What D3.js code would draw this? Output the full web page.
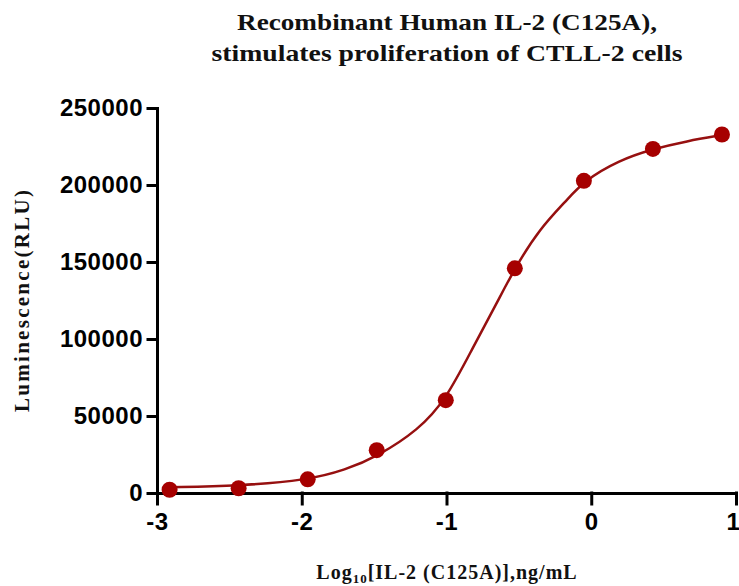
<!DOCTYPE html>
<html>
<head>
<meta charset="utf-8">
<script src="https://cdn.jsdelivr.net/npm/d3@7"></script>
<style>
  body { margin: 0; background: #fff; }
  svg { display: block; }
</style>
</head>
<body>
<div id="graf"></div>
<script>
// datos
const logConc = [-2.913, -2.436, -1.959, -1.482, -1.005, -0.528, -0.051, 0.426, 0.903]
const rlu = [2100, 3100, 8900, 27800, 60300, 145900, 202700, 223400, 232800]

// curva ajustada (leida sobre la linea)
const fitX = [-2.913, -2.436, -1.959, -1.70, -1.473, -1.195, -1.005, -0.815, -0.653, -0.528, -0.354, -0.170, -0.051, 0.19, 0.426, 0.66, 0.903]
const fitY = [3700, 4600, 8400, 14900, 24000, 40900, 60400, 95000, 123200, 146100, 171900, 190000, 202600, 216000, 223400, 228500, 232400]

const xTicks = [-3, -2, -1, 0, 1]
const yTicks = [0, 50000, 100000, 150000, 200000, 250000]

const ancho_total = 739
const alto_total = 586

const svg = d3.select('#graf').append('svg')
  .attr('width', ancho_total)
  .attr('height', alto_total)

const x = d3.scaleLinear().domain([-3, 1]).range([157, 736])
const y = d3.scaleLinear().domain([0, 250000]).range([493, 108])

const rojo = '#a60000'

// titulo
function serif(sel, size) {
  return sel.attr('text-anchor', 'middle')
    .attr('font-family', 'Liberation Serif')
    .attr('font-weight', 'bold')
    .attr('font-size', size)
    .attr('fill', '#111')
}
serif(svg.append('text'), '24px')
  .attr('x', 447).attr('y', 30)
  .attr('textLength', 420).attr('lengthAdjust', 'spacingAndGlyphs')
  .text('Recombinant Human IL-2 (C125A),')
serif(svg.append('text'), '24px')
  .attr('x', 447).attr('y', 61)
  .attr('textLength', 471).attr('lengthAdjust', 'spacingAndGlyphs')
  .text('stimulates proliferation of CTLL-2 cells')

// ejes
const yAxis = d3.axisLeft(y)
  .tickValues(yTicks)
  .tickSize(9)
  .tickSizeOuter(0)
  .tickPadding(5)
  .tickFormat(d => String(d))

const xAxis = d3.axisBottom(x)
  .tickValues(xTicks)
  .tickSize(11)
  .tickSizeOuter(0)
  .tickPadding(9)
  .tickFormat(d => String(d))

svg.append('g')
  .attr('transform', 'translate(157,0)')
  .call(yAxis)

const gx = svg.append('g')
  .attr('transform', 'translate(0,493)')
  .call(xAxis)

svg.selectAll('.domain, .tick line')
  .attr('stroke', '#000')
  .attr('stroke-width', 3)
  .attr('stroke-linecap', 'square')

svg.selectAll('.tick text')
  .attr('font-family', 'Liberation Sans')
  .attr('font-weight', 'bold')
  .attr('font-size', '24px')
  .attr('letter-spacing', '0.5px')
  .attr('fill', '#000')

// el "1" queda pegado al borde
gx.selectAll('.tick text').filter(d => d === 1).attr('dx', -3)

// curva
const linea = d3.line()
  .x(d => x(d[0]))
  .y(d => y(d[1]))
  .curve(d3.curveBasis)

svg.append('path')
  .datum(d3.zip(fitX, fitY))
  .attr('d', linea)
  .attr('fill', 'none')
  .attr('stroke', '#961010')
  .attr('stroke-width', 2.5)

// puntos
svg.selectAll('circle.pt')
  .data(d3.zip(logConc, rlu))
  .enter()
  .append('circle')
  .attr('class', 'pt')
  .attr('cx', d => x(d[0]))
  .attr('cy', d => y(d[1]))
  .attr('r', 8)
  .attr('fill', rojo)

// titulos de ejes
serif(svg.append('text'), '21px')
  .attr('transform', 'translate(29,301) rotate(-90)')
  .attr('textLength', 222).attr('lengthAdjust', 'spacing')
  .text('Luminescence(RLU)')

const xt = serif(svg.append('text'), '20px')
  .attr('x', 447)
  .attr('y', 579)
  .attr('letter-spacing', '1px')
xt.append('tspan').text('Log')
xt.append('tspan').attr('font-size', '13px').attr('dy', 4).text('10')
xt.append('tspan').attr('dy', -4).text('[IL-2 (C125A)],ng/mL')
</script>
</body>
</html>
